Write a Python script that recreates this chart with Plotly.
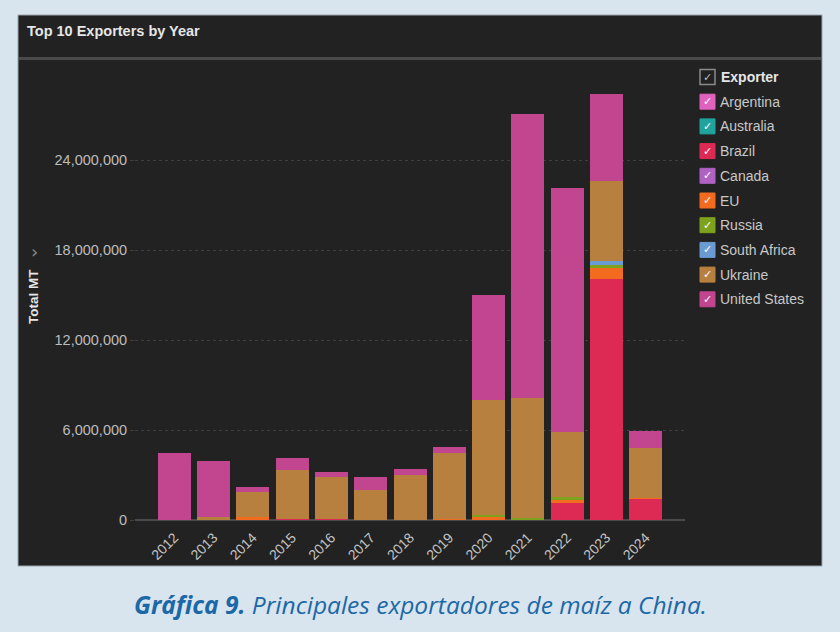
import plotly.graph_objects as go

years = ["2012", "2013", "2014", "2015", "2016", "2017", "2018", "2019", "2020", "2021", "2022", "2023", "2024"]
exporters = ["Argentina", "Australia", "Brazil", "Canada", "EU", "Russia", "South Africa", "Ukraine", "United States"]
colors = ["#e062bd", "#1fa39e", "#dc2a55", "#b062c4", "#f26b1f", "#7fa21c", "#6a9bd2", "#b7803f", "#c2458f"]

argentina = [0, 0, 0, 0, 0, 0, 0, 0, 0, 0, 0, 0, 0]
australia = [0, 0, 0, 0, 0, 0, 0, 0, 0, 0, 0, 0, 0]
brazil = [0, 0, 0, 80000, 80000, 0, 0, 40000, 0, 0, 1150000, 16100000, 1400000]
canada = [0, 0, 0, 0, 0, 0, 0, 0, 0, 0, 0, 0, 0]
eu = [0, 0, 180000, 0, 0, 0, 0, 50000, 180000, 0, 180000, 670000, 60000]
russia = [0, 0, 0, 0, 0, 0, 0, 0, 150000, 130000, 180000, 220000, 0]
south_africa = [0, 0, 0, 0, 0, 0, 0, 0, 0, 0, 0, 270000, 0]
ukraine = [0, 200000, 1660000, 3250000, 2810000, 2000000, 3000000, 4400000, 7670000, 8000000, 4360000, 5350000, 3320000]
united_states = [4490000, 3750000, 380000, 780000, 330000, 890000, 380000, 350000, 7000000, 18940000, 16260000, 5780000, 1150000]

series = [argentina, australia, brazil, canada, eu, russia, south_africa, ukraine, united_states]

y_ticks = [0, 6000000, 12000000, 18000000, 24000000]

W, H = 840, 632
L, R, T, B = 135, 685, 65, 520   # plot area in pixels


def px(x):
    return (x - L) / (R - L)


def py(y):
    return (B - y) / (B - T)


fig = go.Figure()
for name, col, vals in zip(exporters, colors, series):
    fig.add_trace(go.Bar(
        x=years, y=vals, name=name,
        marker=dict(color=col, line=dict(width=0)),
        showlegend=False,
    ))

shapes = []
annotations = []

# dark panel
shapes.append(dict(type="rect", xref="paper", yref="paper",
                   x0=px(18), x1=px(822), y0=py(566), y1=py(15),
                   fillcolor="#222222", line=dict(color="#9aa4ad", width=1), layer="below"))
# header separator
shapes.append(dict(type="line", xref="paper", yref="paper",
                   x0=px(19), x1=px(821), y0=py(58.5), y1=py(58.5),
                   line=dict(color="#4a4a4a", width=3), layer="below"))

# title
annotations.append(dict(text="<b>Top 10 Exporters by Year</b>", xref="paper", yref="paper",
                        x=px(25), y=py(31), xanchor="left", yanchor="middle", showarrow=False,
                        font=dict(family="Liberation Sans", size=14.5, color="#e6e6e6")))

# y-axis title and chevron
annotations.append(dict(text="<b>Total MT</b>", xref="paper", yref="paper",
                        x=px(33), y=py(297), xanchor="center", yanchor="middle", showarrow=False,
                        textangle=-90, font=dict(family="Liberation Sans", size=13.5, color="#e6e6e6")))
annotations.append(dict(text="›", xref="paper", yref="paper",
                        x=px(34), y=py(251), xanchor="center", yanchor="middle", showarrow=False,
                        font=dict(family="DejaVu Sans", size=18, color="#8a8a8a")))

# legend (custom, checkbox style)
lx0, ly0, step, sz = 700, 77, 24.7, 15
shapes.append(dict(type="rect", xref="paper", yref="paper",
                   x0=px(lx0), x1=px(lx0 + sz), y0=py(ly0 + sz / 2), y1=py(ly0 - sz / 2),
                   fillcolor="#222222", line=dict(color="#8a8a8a", width=1.5)))
annotations.append(dict(text="✓", xref="paper", yref="paper",
                        x=px(lx0 + sz / 2), y=py(ly0), xanchor="center", yanchor="middle", showarrow=False,
                        font=dict(family="DejaVu Sans", size=11, color="#bdbdbd")))
annotations.append(dict(text="<b>Exporter</b>", xref="paper", yref="paper",
                        x=px(lx0 + 19), y=py(ly0), xanchor="left", yanchor="middle", showarrow=False,
                        font=dict(family="Liberation Sans", size=14, color="#e6e6e6")))
for i, (name, col) in enumerate(zip(exporters, colors)):
    cy = ly0 + step * (i + 1)
    shapes.append(dict(type="rect", xref="paper", yref="paper",
                       x0=px(lx0), x1=px(lx0 + sz), y0=py(cy + sz / 2), y1=py(cy - sz / 2),
                       fillcolor=col, line=dict(color=col, width=1)))
    annotations.append(dict(text="✓", xref="paper", yref="paper",
                            x=px(lx0 + sz / 2), y=py(cy), xanchor="center", yanchor="middle", showarrow=False,
                            font=dict(family="DejaVu Sans", size=11, color="#ffffff")))
    annotations.append(dict(text=name, xref="paper", yref="paper",
                            x=px(lx0 + 18), y=py(cy), xanchor="left", yanchor="middle", showarrow=False,
                            font=dict(family="Liberation Sans", size=14, color="#c8c8c8")))

# caption
annotations.append(dict(text="<b><i>Gráfica 9.</i></b><i> Principales exportadores de maíz a China.</i>",
                        xref="paper", yref="paper", x=px(420), y=py(604),
                        xanchor="center", yanchor="middle", showarrow=False,
                        font=dict(family="Open Sans", size=24.5, color="#1b68a6")))

fig.update_layout(
    width=W, height=H,
    margin=dict(l=L, r=W - R, t=T, b=H - B, pad=0),
    paper_bgcolor="#d8e4ee",
    plot_bgcolor="rgba(0,0,0,0)",
    barmode="stack",
    bargap=0.16,
    showlegend=False,
    shapes=shapes,
    annotations=annotations,
    xaxis=dict(
        type="category", range=[-1, 13],
        tickangle=-45, showgrid=False, zeroline=False, showline=False,
        ticks="outside", ticklen=3, tickcolor="rgba(0,0,0,0)",
        tickfont=dict(family="Liberation Sans", size=14, color="#c4c4c4"),
    ),
    yaxis=dict(
        range=[0, 455 / 15 * 1e6],
        tickvals=y_ticks, ticktext=[f"{v:,}" for v in y_ticks],
        showgrid=True, gridcolor="#3e3e3e", griddash="dot", gridwidth=1,
        zeroline=True, zerolinecolor="#4a4a4a", zerolinewidth=1.5,
        ticks="outside", ticklen=4, tickcolor="#3e3e3e",
        tickfont=dict(family="Liberation Sans", size=14.5, color="#bdbdbd"),
        showline=False,
    ),
)

fig.write_html("out.html")
